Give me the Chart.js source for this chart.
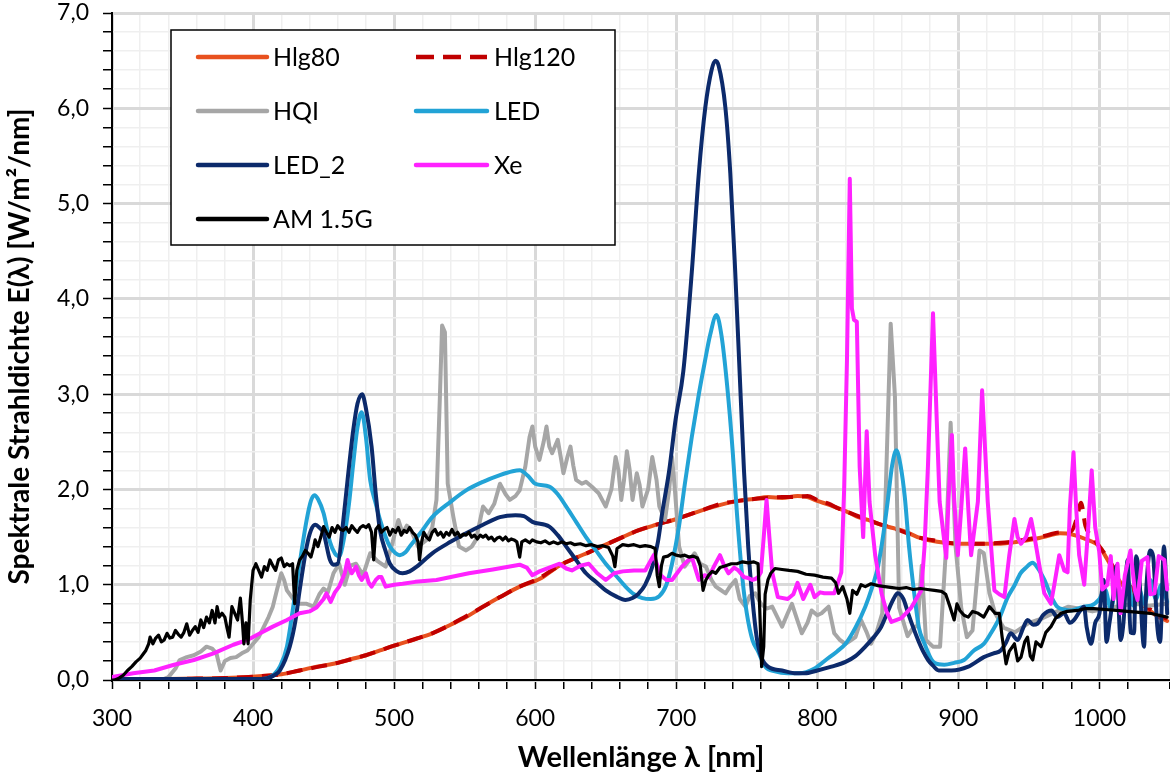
<!DOCTYPE html>
<html><head><meta charset="utf-8">
<script src="https://cdn.jsdelivr.net/npm/chart.js@4.4.1/dist/chart.umd.min.js"></script>
<style>html,body{margin:0;padding:0;background:#fff;}#wrap{width:1170px;height:775px;position:relative;}</style>
</head><body><div id="wrap"><canvas id="c" width="1170" height="775"></canvas></div>
<script>
// ---- Data: [wavelength nm, E(λ) W/m²/nm] ----
const hlg80 = [[300,0],[320,0.005],[340,0.01],[360,0.015],[380,0.02],[400,0.035],[420,0.06],[433,0.10],[445,0.14],[457,0.17],[470,0.22],[480,0.26],[490,0.31],[500,0.36],[515,0.43],[527,0.49],[540,0.58],[551,0.66],[562,0.76],[575,0.87],[589,0.98],[603,1.06],[617,1.20],[630,1.29],[638,1.34],[650,1.42],[662,1.50],[673,1.57],[686,1.63],[700,1.69],[716,1.77],[732,1.84],[744,1.88],[755,1.90],[765,1.92],[775,1.91],[786,1.93],[793,1.92],[800,1.88],[808,1.84],[815,1.80],[822,1.76],[829,1.71],[836,1.68],[843,1.64],[852,1.60],[862,1.56],[871,1.50],[885,1.45],[900,1.43],[915,1.43],[930,1.43],[942,1.45],[954,1.48],[963,1.51],[972,1.54],[980,1.53],[990,1.48],[1000,1.40],[1005,1.28],[1010,1.15],[1015,1.02],[1022,0.92],[1030,0.80],[1040,0.68],[1048,0.62]];
const hlg120 = [[300,0],[320,0.005],[340,0.01],[360,0.015],[380,0.02],[400,0.035],[420,0.06],[433,0.10],[445,0.135],[457,0.17],[470,0.22],[480,0.26],[490,0.31],[500,0.36],[515,0.43],[527,0.49],[540,0.58],[551,0.67],[562,0.76],[575,0.87],[589,0.98],[603,1.07],[617,1.20],[630,1.29],[638,1.34],[650,1.42],[662,1.50],[673,1.57],[686,1.63],[700,1.69],[716,1.77],[732,1.85],[744,1.88],[755,1.90],[765,1.91],[775,1.92],[786,1.92],[793,1.93],[800,1.89],[808,1.85],[815,1.80],[822,1.76],[829,1.72],[836,1.68],[843,1.64],[852,1.60],[862,1.55],[871,1.50],[885,1.46],[900,1.43],[915,1.43],[930,1.44],[942,1.46],[954,1.49],[963,1.52],[972,1.55],[980,1.56],[984,1.70],[987,1.86],[990,1.62],[995,1.50],[1000,1.40],[1005,1.30],[1010,1.18],[1015,1.05],[1022,0.98],[1030,0.82],[1040,0.70],[1048,0.64]];
const hqi = [[300,0],[335,0],[340,0.03],[345,0.12],[348,0.21],[353,0.24],[358,0.26],[363,0.30],[367,0.35],[371,0.33],[374,0.28],[377,0.10],[380,0.20],[384,0.23],[388,0.24],[392,0.28],[396,0.31],[400,0.38],[404,0.45],[407,0.54],[411,0.66],[414,0.77],[417,0.95],[420,1.12],[422,1.05],[424,0.94],[429,0.84],[433,0.80],[438,0.80],[443,0.77],[447,0.90],[450,0.96],[453,0.92],[457,1.12],[461,1.22],[465,1.00],[469,1.20],[473,1.22],[478,1.10],[483,1.33],[488,1.25],[494,1.19],[499,1.45],[503,1.68],[506,1.54],[509,1.62],[512,1.57],[517,1.40],[523,1.47],[527,1.60],[530,1.89],[532.5,3.0],[534,3.72],[536,3.65],[538,2.06],[542,1.71],[546,1.40],[551,1.36],[555,1.40],[558,1.47],[563,1.82],[567,1.75],[571,1.85],[575,2.06],[579,1.95],[582,1.89],[586,1.93],[589,1.99],[593,2.24],[596,2.55],[598,2.66],[600,2.45],[603,2.31],[606,2.50],[608,2.66],[610,2.45],[612,2.38],[614,2.45],[616,2.52],[618,2.35],[620,2.17],[623,2.35],[625,2.45],[627,2.25],[629,2.10],[633,2.06],[636,2.08],[640,2.03],[645,1.96],[650,1.82],[654,2.00],[657,2.34],[659,2.20],[661,1.89],[663,2.10],[665,2.40],[667,2.20],[669,1.89],[672,2.17],[674,2.05],[676,1.82],[680,2.00],[683,2.34],[686,2.10],[688,1.82],[692,1.68],[695,2.00],[697,2.34],[699,2.00],[702,1.40],[706,1.19],[709,1.25],[713,1.33],[717,1.22],[721,1.19],[725,1.05],[728,0.98],[731,0.95],[735,0.91],[738,0.98],[742,1.05],[745,0.85],[749,0.77],[752,0.88],[756,0.91],[760,0.80],[764,0.75],[768,0.77],[772,0.65],[775,0.56],[779,0.70],[782,0.80],[786,0.62],[789,0.49],[793,0.60],[796,0.73],[800,0.68],[803,0.70],[808,0.77],[812,0.49],[816,0.42],[820,0.38],[824,0.42],[827,0.45],[831,0.63],[835,0.50],[838,0.38],[842,0.50],[846,0.70],[849,2.24],[852,3.74],[855,2.98],[858,0.76],[864,0.46],[868,0.55],[871,0.57],[874,1.20],[877,0.42],[882,0.35],[887,0.35],[891,1.33],[894.5,2.70],[898,1.40],[902,0.76],[906,0.45],[910,0.52],[915,1.36],[918,1.33],[922,0.91],[926,0.70],[932,0.55],[940,0.50],[950,0.60],[960,0.65],[970,0.72],[978,0.77],[985,0.75],[995,0.72],[1005,0.75],[1015,0.78],[1025,0.80],[1035,0.78],[1048,0.80]];
const led = [[300,0.01],[350,0.01],[400,0.01],[410,0.02],[415,0.06],[419,0.14],[424,0.35],[428.5,0.77],[433,1.22],[438,1.68],[441,1.88],[443.5,1.94],[446,1.90],[450,1.75],[454.5,1.45],[458,1.33],[461,1.30],[464,1.45],[468,1.85],[471,2.27],[474,2.65],[477,2.81],[480,2.55],[483,2.10],[487,1.85],[490,1.68],[494,1.50],[497,1.40],[501,1.33],[504,1.31],[508,1.34],[511,1.40],[519,1.55],[527,1.71],[540,1.87],[551,1.99],[563,2.08],[575,2.15],[584,2.19],[589,2.20],[595,2.14],[600,2.06],[610,2.03],[616,1.95],[622,1.82],[629,1.66],[636,1.50],[643,1.36],[650,1.22],[657,1.10],[664,0.98],[670,0.90],[676,0.86],[682,0.85],[688,0.88],[693,1.00],[697,1.22],[702,1.62],[706,2.05],[711,2.55],[716,3.00],[720,3.32],[724,3.62],[728.5,3.83],[732,3.62],[736,3.10],[740,2.40],[743,1.75],[747,1.05],[750,0.70],[754,0.42],[758,0.30],[763,0.14],[770,0.09],[779,0.07],[787,0.07],[798,0.12],[806,0.21],[814,0.30],[820,0.38],[827,0.55],[834,0.77],[839,0.98],[843,1.19],[847,1.55],[850,1.89],[853,2.25],[856,2.41],[859,2.25],[862,1.92],[865,1.40],[869,0.87],[872,0.55],[876,0.38],[880,0.24],[883,0.18],[890,0.16],[897,0.18],[904,0.21],[911,0.31],[918,0.38],[923,0.49],[929,0.65],[935,0.87],[940,1.00],[944,1.12],[948,1.18],[952.5,1.23],[956,1.18],[961,1.05],[966,0.87],[970,0.77],[975,0.74],[980,0.73],[985,0.75],[989,0.77],[994,0.78],[1000,0.85],[1004,0.95],[1008,0.75],[1012,1.00],[1016,0.82],[1020,1.05],[1024,0.78],[1028,0.95],[1032,0.80],[1036,1.05],[1040,0.85],[1044,1.00],[1048,0.82]];
const led2 = [[300,0.01],[400,0.01],[410,0.02],[415,0.05],[419,0.10],[426,0.35],[430,0.62],[433,0.94],[438,1.40],[441,1.57],[444,1.63],[447,1.60],[450,1.54],[454.5,1.26],[457,1.21],[460,1.22],[464,1.68],[467,2.10],[471,2.62],[474,2.90],[477.3,3.00],[480,2.85],[484,2.45],[487,1.95],[490,1.57],[494,1.35],[497,1.22],[502,1.14],[506,1.12],[511,1.14],[516,1.19],[527,1.33],[540,1.45],[551,1.54],[563,1.63],[575,1.71],[586,1.73],[592,1.72],[598,1.66],[610,1.61],[616,1.52],[622,1.40],[629,1.26],[636,1.12],[643,1.03],[650,0.94],[657,0.88],[664,0.84],[669,0.86],[673.5,0.91],[678,1.00],[683,1.19],[687,1.45],[690,1.75],[695,2.20],[699.5,2.73],[705,3.24],[711,4.28],[716,5.32],[720.6,6.01],[725,6.40],[727.7,6.50],[730,6.45],[734.8,6.01],[738.3,5.32],[741.8,4.28],[745,3.20],[748,2.20],[751,1.40],[754,0.85],[757,0.45],[760,0.25],[765,0.14],[775,0.10],[785,0.07],[791,0.07],[800,0.10],[810,0.14],[820,0.19],[827,0.25],[834,0.35],[840,0.45],[845,0.55],[850,0.72],[854,0.85],[857,0.91],[861,0.85],[864.4,0.70],[868,0.55],[871.4,0.42],[875,0.30],[878.5,0.21],[882,0.15],[886,0.10],[895,0.10],[907,0.14],[918,0.24],[925,0.28],[930,0.31],[934,0.40],[937,0.49],[942,0.42],[946,0.55],[949,0.63],[953,0.58],[956,0.59],[960,0.68],[966,0.73],[970,0.66],[975,0.70],[979,0.60],[982,0.63],[986,0.72],[989,0.77],[991,0.55],[994,0.38],[997,0.60],[1000,0.70],[1001.5,0.90],[1003,1.05],[1005,0.40],[1007,0.59],[1010,0.91],[1012,1.20],[1015,0.42],[1017,0.60],[1020,1.26],[1022,0.50],[1024.5,0.49],[1026,1.30],[1028,1.12],[1031.6,0.35],[1033,0.90],[1036,1.36],[1038,1.30],[1041,0.56],[1043,0.40],[1045.7,1.40],[1048,0.70]];
const xe = [[300,0.03],[315,0.07],[330,0.10],[344,0.16],[358,0.21],[372,0.28],[386,0.37],[396,0.42],[405,0.49],[414,0.56],[424,0.63],[433,0.70],[440,0.72],[445,0.76],[450,0.85],[452,0.91],[455,0.82],[458,0.92],[461,0.98],[463,1.05],[465,1.12],[467,1.26],[469,1.15],[470,1.12],[473,1.19],[475,1.10],[477,1.05],[480,1.12],[482,1.02],[484,0.98],[487,1.05],[489,1.08],[491,1.08],[494,0.98],[500,1.00],[506,1.01],[515,1.03],[530,1.05],[553,1.12],[570,1.16],[589,1.21],[594,1.18],[598,1.10],[603,1.14],[610,1.18],[617,1.22],[622,1.17],[626,1.15],[632,1.20],[638,1.22],[644,1.12],[650,1.05],[656,1.12],[662,1.14],[670,1.15],[678,1.15],[684,1.31],[689,1.10],[693,1.05],[697,1.05],[704,1.19],[708,1.25],[711,1.29],[716,1.05],[720,1.10],[723,1.08],[727,1.20],[731,1.31],[734,1.20],[737,1.12],[741,1.18],[744,1.15],[748,1.08],[751,1.07],[754,1.05],[756,1.06],[758,1.08],[760,1.13],[762,1.50],[764,1.89],[766,1.50],[768,1.13],[772,0.87],[779,0.85],[783,0.90],[786,1.02],[790,0.85],[795,1.00],[798,0.87],[802,0.92],[805,0.91],[812,0.91],[817,1.13],[819,2.00],[821,3.35],[823,5.26],[824.5,3.90],[826,3.78],[828,3.76],[830,2.24],[832.5,1.50],[835,2.61],[837,1.87],[841,1.31],[845.5,0.91],[849,0.72],[852.5,0.61],[859.6,0.65],[866.6,0.76],[873.7,0.94],[876,1.40],[878.4,2.24],[882,3.85],[884,3.00],[886.7,1.87],[891.4,1.28],[893,1.90],[895.4,2.57],[897,1.90],[899.6,1.31],[902,1.80],[904.8,2.43],[907,1.80],[909,1.31],[913.8,1.87],[916.8,3.04],[919,2.40],[920.8,1.87],[925.5,0.94],[929,0.90],[932.6,0.87],[936,1.30],[939.7,1.69],[942,1.50],[944.4,1.43],[948,1.50],[951.5,1.69],[954,1.50],[957.4,1.20],[960.9,0.91],[965.6,0.80],[968,1.00],[971.5,1.31],[975,1.15],[977.4,1.13],[979,1.80],[981.6,2.39],[983.5,1.80],[985.6,1.31],[989.2,1.00],[992,1.60],[994.5,2.20],[997,1.60],[999.8,1.35],[1002,0.95],[1005.6,1.00],[1008,1.30],[1010,0.85],[1012.8,1.22],[1015,0.70],[1018,1.10],[1022,1.36],[1025,0.95],[1027,0.84],[1030,1.25],[1034,1.29],[1036,0.90],[1039,0.91],[1042,1.30],[1046,1.26],[1048,0.95]];
const am15g = [[300,0],[302,0],[305,0.02],[308,0.05],[311,0.10],[314,0.14],[317,0.19],[320,0.23],[322,0.27],[324,0.31],[326,0.38],[327,0.45],[329,0.38],[331,0.44],[333,0.47],[335,0.40],[337,0.42],[339,0.49],[341,0.44],[343,0.45],[345,0.52],[347,0.48],[349,0.45],[351,0.50],[353,0.59],[355,0.47],[357,0.52],[359,0.56],[361,0.50],[363,0.63],[365,0.55],[367,0.66],[369,0.60],[371,0.73],[373,0.60],[374.5,0.77],[376,0.66],[378,0.70],[380,0.66],[381.5,0.55],[383,0.45],[385,0.77],[387,0.70],[389,0.63],[391,0.86],[392.5,0.60],[393.5,0.38],[395,0.60],[396.5,0.38],[398,0.84],[400,1.15],[402,1.22],[404,1.15],[406,1.08],[408,1.19],[410,1.15],[412,1.26],[414,1.20],[416,1.15],[418,1.26],[420,1.28],[422,1.19],[424,1.22],[426,1.20],[428,1.22],[429.5,0.80],[431,1.15],[433,1.26],[435,1.30],[437,1.36],[439,1.33],[441,1.29],[443,1.40],[444,1.47],[446,1.40],[448,1.50],[450,1.61],[452,1.55],[454,1.50],[456,1.60],[458,1.55],[460,1.62],[462,1.58],[464,1.57],[466,1.60],[468,1.55],[470,1.62],[472,1.58],[474,1.55],[476,1.60],[478,1.62],[480,1.60],[482,1.63],[484,1.55],[485.5,1.26],[487,1.58],[489,1.62],[491,1.55],[493,1.58],[495,1.60],[497,1.52],[499,1.58],[501,1.55],[503,1.60],[505,1.52],[507,1.57],[509,1.55],[511,1.60],[513,1.55],[515,1.52],[517,1.45],[518,1.26],[519.5,1.45],[521,1.55],[523,1.50],[525,1.47],[527,1.55],[529,1.58],[531,1.52],[533,1.55],[535,1.50],[537,1.55],[539,1.52],[541,1.58],[543,1.52],[545,1.55],[547,1.50],[549,1.53],[551,1.52],[553,1.55],[555,1.50],[557,1.52],[559,1.48],[561,1.52],[563,1.50],[565,1.52],[567,1.48],[569,1.50],[571,1.46],[573,1.49],[575,1.50],[577,1.47],[579,1.50],[581,1.46],[583,1.48],[585,1.47],[587,1.45],[589,1.29],[590.5,1.45],[593,1.47],[596,1.44],[598,1.47],[601,1.45],[604,1.44],[607,1.46],[610,1.43],[613,1.45],[616,1.43],[619,1.45],[622,1.43],[625,1.44],[628,1.42],[632,1.43],[636,1.41],[640,1.42],[644,1.40],[648,1.41],[652,1.39],[655,1.30],[656.5,1.19],[658,1.38],[662,1.42],[666,1.41],[670,1.42],[674,1.40],[678,1.41],[682,1.40],[685,1.38],[686.5,1.10],[688,0.98],[689.5,1.20],[691,1.29],[694,1.30],[697,1.33],[700,1.31],[703,1.30],[706,1.31],[709,1.29],[712,1.30],[715,1.28],[717,1.20],[719,0.94],[721,1.05],[723,1.10],[725.5,1.14],[728,1.12],[731,1.18],[735,1.20],[739,1.22],[743,1.22],[747,1.24],[751,1.23],[755,1.24],[758,1.22],[759.5,0.60],[760.5,0.14],[762,0.35],[763,0.90],[765,1.05],[767,1.12],[770,1.17],[775,1.16],[780,1.15],[786,1.14],[792,1.11],[798,1.10],[804,1.08],[810,1.07],[813,1.02],[815,0.91],[818,0.98],[821,0.85],[823,0.70],[825,0.94],[828,0.90],[831,1.00],[834,0.98],[838,1.01],[843,0.99],[848,0.98],[853,0.97],[858,0.96],[863,0.97],[868,0.95],[873,0.96],[878,0.95],[883,0.94],[888,0.93],[891,0.90],[894,0.77],[897,0.63],[899,0.80],[901,0.73],[904,0.68],[907,0.66],[910,0.72],[914,0.70],[918,0.66],[922,0.77],[926,0.70],[929,0.70],[931,0.45],[933.8,0.17],[936,0.30],[939.7,0.38],[942,0.20],[944.4,0.24],[947,0.40],[949,0.45],[951,0.25],[952.7,0.21],[955,0.40],[958.6,0.35],[962,0.50],[965.6,0.56],[969,0.65],[972.7,0.70],[977,0.72],[984.5,0.73],[990,0.75],[996,0.75],[1004,0.74],[1012,0.73],[1020,0.72],[1028,0.71],[1036,0.70],[1042,0.68],[1048,0.66]];

const seriesLabels = ['Hlg80','Hlg120','HQI','LED','LED_2','Xe','AM 1.5G'];
const seriesData = [hlg80, hlg120, hqi, led, led2, xe, am15g];
const seriesColors = ['#e8511f','#c00000','#a6a6a6','#22a3d6','#0c2a6b','#ff22ff','#000000'];
const smoothSeries = [true, true, false, true, true, false, false];

const xTickLabels = [300,400,500,600,700,800,900,1000];
const yTickLabels = ['0,0','1,0','2,0','3,0','4,0','5,0','6,0','7,0'];

const FONT = 'Lato, "Open Sans", "DejaVu Sans", sans-serif';

const datasets = seriesData.map((arr, i) => ({
  label: seriesLabels[i],
  data: arr.map(p => ({x: p[0], y: p[1]})),
  borderColor: seriesColors[i],
  backgroundColor: seriesColors[i],
  borderWidth: i === 6 ? 3.2 : 4,
  borderDash: i === 1 ? [16, 9] : [],
  pointRadius: 0,
  fill: false,
  tension: 0,
  cubicInterpolationMode: smoothSeries[i] ? 'monotone' : 'default',
  borderJoinStyle: 'round',
  borderCapStyle: i === 1 ? 'butt' : 'round',
  order: 6 - i
}));

const isMult = (v, s) => Math.abs(v / s - Math.round(v / s)) < 1e-6;

const legendPlugin = {
  id: 'boxLegend',
  afterDatasetsDraw(chart) {
    const ctx = chart.ctx;
    ctx.save();
    ctx.fillStyle = '#fff';
    ctx.fillRect(171, 30, 444, 215);
    ctx.strokeStyle = '#000';
    ctx.lineWidth = 1.5;
    ctx.strokeRect(171, 30, 444, 215);
    chart.data.datasets.forEach((ds, i) => {
      const col = i % 2, row = Math.floor(i / 2);
      const x0 = col ? 416 : 198, x1 = col ? 487 : 267, tx = col ? 494 : 273;
      const y = 57 + row * 54;
      ctx.beginPath();
      ctx.setLineDash(i === 1 ? [18, 9] : []);
      ctx.lineCap = i === 1 ? 'butt' : 'round';
      ctx.strokeStyle = ds.borderColor;
      ctx.lineWidth = 4.5;
      ctx.moveTo(x0, y); ctx.lineTo(x1, y);
      ctx.stroke();
      ctx.setLineDash([]);
      ctx.fillStyle = '#000';
      ctx.font = '25px ' + FONT;
      ctx.textBaseline = 'middle';
      ctx.textAlign = 'left';
      ctx.fillText(ds.label, tx, y + 1);
    });
    ctx.restore();
  }
};

new Chart(document.getElementById('c'), {
  type: 'line',
  data: { datasets },
  plugins: [legendPlugin],
  options: {
    responsive: false,
    animation: false,
    parsing: true,
    layout: { padding: { left: 0, right: 0, top: 13, bottom: 0 } },
    plugins: { legend: { display: false }, tooltip: { enabled: false } },
    scales: {
      x: {
        type: 'linear', min: 300, max: 1050,
        afterFit(s) { s.height = 95; s.paddingLeft = 0; s.paddingRight = 0; },
        ticks: {
          stepSize: 20, autoSkip: false, maxRotation: 0, minRotation: 0,
          color: '#000', font: { family: FONT, size: 23 }, padding: 16,
          callback: v => xTickLabels.includes(Math.round(v)) && isMult(v, 100) ? String(Math.round(v)) : ''
        },
        grid: {
          color: c => isMult(c.tick.value, 100) ? '#d9d9d9' : '#efefef',
          lineWidth: c => isMult(c.tick.value, 100) ? 3 : 1.5,
          tickColor: '#000', tickWidth: 1.5, tickLength: 9
        },
        border: { color: '#000', width: 2 },
        title: { display: true, text: 'Wellenlänge λ [nm]', color: '#000',
          font: { family: FONT, size: 29, weight: 'bold' }, padding: { top: 0, bottom: 0 } }
      },
      y: {
        type: 'linear', min: 0, max: 7,
        afterFit(s) { s.width = 112; s.paddingTop = 0; s.paddingBottom = 0; },
        ticks: {
          stepSize: 0.2, autoSkip: false, color: '#000', font: { family: FONT, size: 23 }, padding: 14,
          callback: v => isMult(v, 1) ? yTickLabels[Math.round(v)] : ''
        },
        grid: {
          color: c => isMult(c.tick.value, 1) ? '#d9d9d9' : '#efefef',
          lineWidth: c => isMult(c.tick.value, 1) ? 3 : 1.5,
          tickColor: '#000', tickWidth: 1.5, tickLength: 9
        },
        border: { color: '#000', width: 2 },
        title: { display: true, text: 'Spektrale Strahldichte E(λ) [W/m²/nm]', color: '#000',
          font: { family: FONT, size: 28, weight: 'bold' }, padding: { top: 3, bottom: 0 } }
      }
    }
  }
});
</script></body></html>
